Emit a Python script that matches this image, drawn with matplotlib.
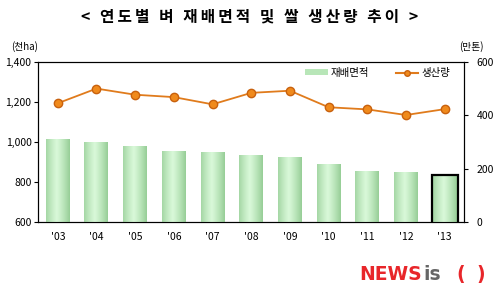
import matplotlib.pyplot as plt
import numpy as np
from matplotlib.patches import Patch
from matplotlib.lines import Line2D
from matplotlib.colors import LinearSegmentedColormap

plt.rcParams['font.family'] = ['Noto Sans CJK KR', 'DejaVu Sans']

years = ["'03", "'04", "'05", "'06", "'07", "'08", "'09", "'10", "'11", "'12", "'13"]
area = [1016, 1001, 980, 955, 950, 936, 924, 892, 854, 849, 833]        # 천ha
production = [445, 500, 477, 468, 441, 484, 492, 430, 422, 401, 423]   # 만톤
title = '< 연도별 벼 재배면적 및 쌀 생산량 추이 >'

fig = plt.figure(figsize=(4.99, 3.02), dpi=100)
ax = fig.add_axes([0.077, 0.265, 0.853, 0.53])
ax2 = ax.twinx()

x = np.arange(len(years))
bars = ax.bar(x, area, width=0.62, color='#c6efc6', edgecolor='none', zorder=2)
# 막대 그라데이션 (가장자리 진하게)
grad = np.linspace(0, 1, 64)
shade = 1 - 0.55 * np.abs(grad - 0.45) ** 1.2 * 2
cmap = LinearSegmentedColormap.from_list('g', ['#8fc98f', '#d8f8d8'])
for b in bars:
    im = ax.imshow(shade[np.newaxis, :], cmap=cmap, vmin=0.4, vmax=1, aspect='auto',
                   extent=[b.get_x(), b.get_x() + b.get_width(), 600, b.get_height()],
                   zorder=3)
    im.set_clip_path(b)
ax.bar(x[-1], area[-1], width=0.68, facecolor='none', edgecolor='black', linewidth=1.6, zorder=4)

ax2.plot(x, production, color='#e07b1c', marker='o', markersize=6,
         markerfacecolor='#f08a1c', markeredgecolor='#c8610e', linewidth=1.3, zorder=5)

ax.set_xlim(-0.5, 10.5)
ax.set_ylim(600, 1400)
ax2.set_ylim(0, 600)
ax.set_yticks([600, 800, 1000, 1200, 1400])
ax.set_yticklabels(['600', '800', '1,000', '1,200', '1,400'])
ax2.set_yticks([0, 200, 400, 600])
ax.set_xticks(x)
ax.set_xticklabels(years)
ax.tick_params(axis='x', length=0, labelsize=7.5, pad=7)
ax.tick_params(axis='y', length=3, labelsize=7.5, pad=2)
ax2.tick_params(axis='y', length=3, labelsize=7.5, pad=6)

# 범례
handles = [Patch(facecolor='#b8e6b8', edgecolor='none'),
           Line2D([], [], color='#e07b1c', marker='o', markersize=4,
                  markerfacecolor='#f08a1c', markeredgecolor='#c8610e')]
ax2.legend(handles, ['재배면적', '생산량'], loc='upper right', ncol=2, frameon=False,
           fontsize=7.5, bbox_to_anchor=(0.99, 1.02), handlelength=2.2,
           handleheight=0.5, columnspacing=2.5, handletextpad=0.3)

spaced = '\u2009'.join(title)
fig.text(0.5, 0.945, spaced, ha='center', va='center', fontsize=11.3, fontweight='bold')
fig.text(0.05, 0.845, '(천ha)', ha='center', va='center', fontsize=7)
fig.text(0.945, 0.845, '(만톤)', ha='center', va='center', fontsize=7)

# 워터마크
wm = dict(fontsize=13.5, fontweight='bold', va='center', family=['DejaVu Sans'])
fig.text(0.72, 0.09, 'NEWS', color='#e8262a', **wm)
fig.text(0.848, 0.09, 'is', color='#666666', **wm)
fig.text(0.915, 0.09, '(', color='#e8262a', **wm)
fig.text(0.955, 0.09, ')', color='#e8262a', **wm)

fig.savefig('out.png', dpi=100)
